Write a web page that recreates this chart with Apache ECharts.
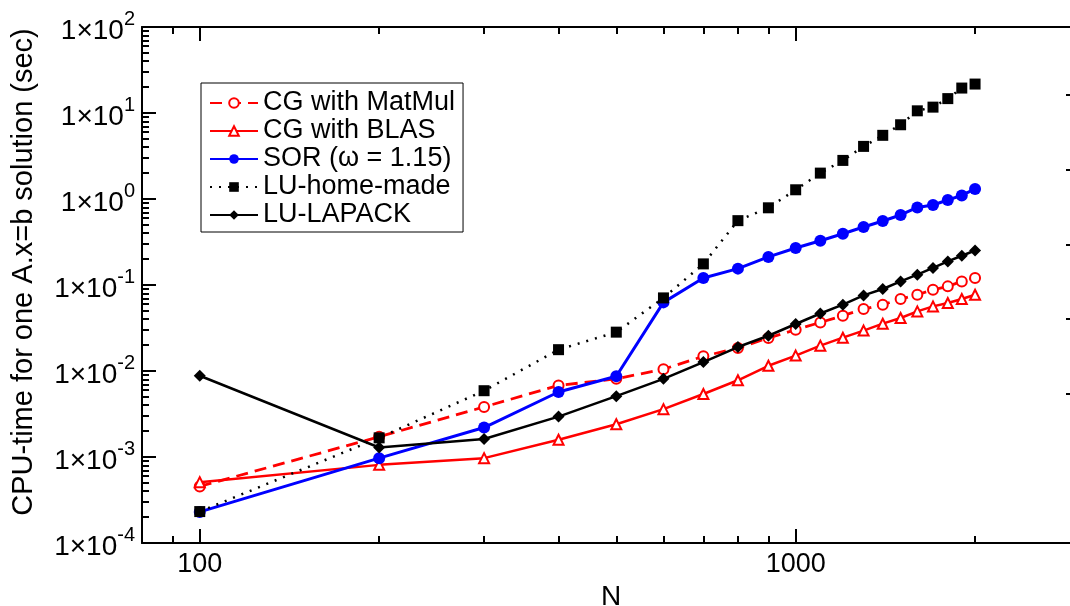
<!DOCTYPE html>
<html>
<head>
<meta charset="utf-8">
<script src="https://cdn.jsdelivr.net/npm/echarts@6/dist/echarts.min.js"></script>
<style>html,body{margin:0;padding:0;background:#fff}#c{width:1070px;height:606px}</style>
</head>
<body>
<div id="c"></div>
<script>
const N = [100,200,300,400,500,600,700,800,900,1000,1100,1200,1300,1400,1500,1600,1700,1800,1900,2000];
const cgMatMul = [4.55e-4,1.72e-3,3.82e-3,6.8e-3,8.1e-3,0.0105,0.0148,0.0185,0.0242,0.0302,0.0367,0.044,0.0526,0.059,0.0687,0.077,0.088,0.0964,0.110,0.1205];
const cgBlas = [5.1e-4,8.1e-4,9.7e-4,1.59e-3,2.4e-3,3.6e-3,5.4e-3,7.8e-3,0.0115,0.0151,0.0197,0.0244,0.0295,0.0355,0.0413,0.0493,0.0564,0.0618,0.0687,0.077];
const sor = [2.3e-4,9.7e-4,2.2e-3,5.7e-3,8.7e-3,0.0628,0.1205,0.155,0.212,0.269,0.327,0.394,0.472,0.555,0.652,0.798,0.851,0.973,1.10,1.31];
const luHome = [2.32e-4,1.67e-3,5.9e-3,0.0177,0.0283,0.0708,0.176,0.56,0.79,1.28,2.0,2.81,4.09,5.5,7.3,10.6,11.7,14.7,19.5,21.7];
const luLapack = [8.8e-3,1.29e-3,1.62e-3,2.95e-3,5.1e-3,8.1e-3,0.0127,0.019,0.0257,0.0352,0.0466,0.059,0.0757,0.0898,0.110,0.132,0.158,0.188,0.219,0.252];

const seriesNames = ['CG with MatMul','CG with BLAS','SOR (\u03c9 = 1.15)','LU-home-made','LU-LAPACK'];
const xMajor = [100,1000];
const xMinor = [90,200,300,400,500,600,700,800,900,2000];
const yMajor = [1e-4,1e-3,1e-2,1e-1,1e0,1e1,1e2];
const yMinor = [];
for (let e = -4; e < 2; e++) for (let m = 2; m <= 9; m++) yMinor.push(m * Math.pow(10, e));

const FONT = 'Liberation Sans';
const pair = arr => N.map((n, i) => [n, arr[i]]);

const xBase = {type:'log', logBase:10, min:80, max:3000, gridIndex:0, splitLine:{show:false}};
const yBase = {type:'log', logBase:10, min:1e-4, max:100, gridIndex:0, splitLine:{show:false}};
const lineSty = {color:'#000', width:2};

const chart = echarts.init(document.getElementById('c'), null, {renderer:'canvas'});
chart.setOption({
  animation:false,
  backgroundColor:'#fff',
  grid:{left:142, right:-10, top:27, bottom:63, containLabel:false, outerBoundsMode:'none'},
  legend:{
    left:201, top:83, orient:'vertical',
    data:seriesNames,
    backgroundColor:'#fff', borderColor:'#000', borderWidth:1, borderRadius:0,
    padding:[6,8,3,8], itemGap:0, itemWidth:48, itemHeight:12,
    textStyle:{fontFamily:FONT, fontSize:27, color:'#000', lineHeight:28}
  },
  xAxis:[
    Object.assign({}, xBase, {position:'bottom', name:'N', nameLocation:'middle', nameGap:27,
      nameTextStyle:{fontFamily:FONT, fontSize:28, color:'#000'},
      axisLine:{show:true, lineStyle:lineSty},
      axisTick:{show:true, inside:true, length:14, lineStyle:lineSty, customValues:xMajor},
      axisLabel:{show:true, customValues:xMajor, margin:8, fontFamily:FONT, fontSize:27, color:'#000', formatter:v=>String(Math.round(v))}}),
    Object.assign({}, xBase, {position:'bottom',
      axisLine:{show:false},
      axisTick:{show:true, inside:true, length:7, lineStyle:lineSty, customValues:xMinor},
      axisLabel:{show:false}}),
    Object.assign({}, xBase, {position:'top',
      axisLine:{show:true, lineStyle:lineSty},
      axisTick:{show:true, inside:true, length:14, lineStyle:lineSty, customValues:xMajor},
      axisLabel:{show:false}}),
    Object.assign({}, xBase, {position:'top',
      axisLine:{show:false},
      axisTick:{show:true, inside:true, length:7, lineStyle:lineSty, customValues:xMinor},
      axisLabel:{show:false}})
  ],
  yAxis:[
    Object.assign({}, yBase, {position:'left',
      name:'CPU-time for one A.x=b solution (sec)', nameLocation:'middle', nameGap:104,
      nameTextStyle:{fontFamily:FONT, fontSize:29, color:'#000', padding:[0,0,0,26]},
      axisLine:{show:true, lineStyle:lineSty},
      axisTick:{show:true, inside:true, length:14, lineStyle:lineSty, customValues:yMajor},
      axisLabel:{show:true, customValues:yMajor, margin:7,
        formatter:v=>'{a|1\u00d710}{b|' + Math.round(Math.log10(v)) + '}',
        rich:{a:{fontFamily:FONT, fontSize:28, color:'#000', lineHeight:36, verticalAlign:'bottom'},
              b:{fontFamily:FONT, fontSize:20, color:'#000', lineHeight:36, verticalAlign:'top'}}}}),
    Object.assign({}, yBase, {position:'left',
      axisLine:{show:false},
      axisTick:{show:true, inside:true, length:7, lineStyle:lineSty, customValues:yMinor},
      axisLabel:{show:false}}),
    {type:'value', position:'right', gridIndex:0, min:0, max:6.91, splitLine:{show:false},
      axisLine:{show:true, lineStyle:lineSty},
      axisTick:{show:true, inside:true, length:14, lineStyle:lineSty, customValues:[2,3,4,5,6]},
      axisLabel:{show:false}}
  ],
  series:[
    {name:seriesNames[0], type:'line', data:pair(cgMatMul), symbol:'emptyCircle', symbolSize:10,
      lineStyle:{color:'#ff0000', width:2.8, type:[12,7]}, itemStyle:{color:'#ff0000', borderWidth:1.5}, z:3},
    {name:seriesNames[1], type:'line', data:pair(cgBlas), symbol:'emptyTriangle', symbolSize:10,
      lineStyle:{color:'#ff0000', width:2.5}, itemStyle:{color:'#ff0000', borderWidth:1.5}, z:3},
    {name:seriesNames[2], type:'line', data:pair(sor), symbol:'circle', symbolSize:12,
      lineStyle:{color:'#0000ff', width:3}, itemStyle:{color:'#0000ff'}, z:4},
    {name:seriesNames[3], type:'line', data:pair(luHome), symbol:'rect', symbolSize:11,
      lineStyle:{color:'#000', width:2.5, type:[2,7]}, itemStyle:{color:'#000'}, z:5},
    {name:seriesNames[4], type:'line', data:pair(luLapack), symbol:'diamond', symbolSize:12,
      lineStyle:{color:'#000', width:2.5}, itemStyle:{color:'#000'}, z:4}
  ]
});
</script>
</body>
</html>
